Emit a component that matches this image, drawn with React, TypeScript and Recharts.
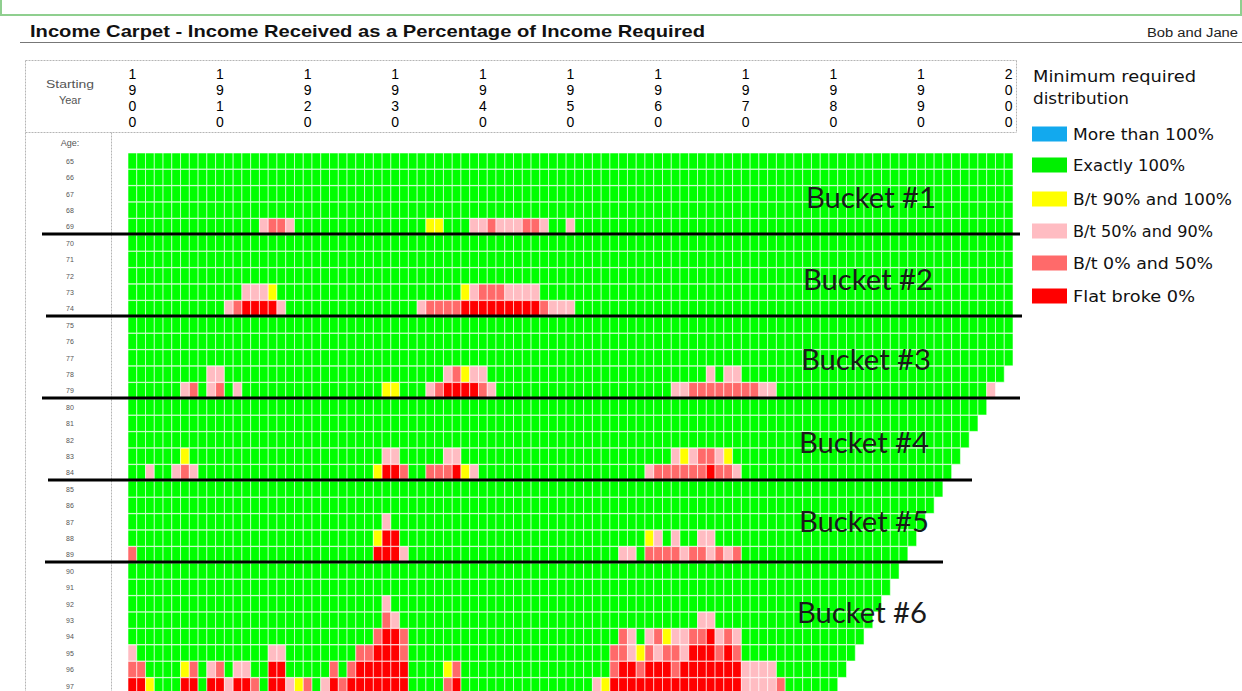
import React from "react";
import { BarChart, Bar, XAxis, YAxis, Cell } from "recharts";

// ---------- data ----------
const firstYear = 1900;
const yearCount = 101; // 1900..2000
const yearTicks = [1900, 1910, 1920, 1930, 1940, 1950, 1960, 1970, 1980, 1990, 2000];

const ages = [65, 66, 67, 68, 69, 70, 71, 72, 73, 74, 75, 76, 77, 78, 79, 80, 81, 82, 83, 84, 85, 86, 87, 88, 89, 90, 91, 92, 93, 94, 95, 96, 97];

// last starting year shown for each age row
const lastStartYear = [
  2000, 2000, 2000, 2000, 2000, 2000, 2000, 2000, 2000, 2000, 2000, 2000, 2000,
  1999, 1998, 1997, 1996, 1995, 1994, 1993, 1992, 1991, 1990, 1989, 1988, 1987,
  1986, 1985, 1984, 1983, 1982, 1981, 1980,
];

// cells that are not "Exactly 100%": [age, first starting year, codes...]
// Y = B/t 90-100, P = B/t 50-90, S = B/t 0-50, R = Flat broke
const offCells: [number, number, string][] = [
  [69, 1915, "PSSP"], [69, 1934, "YY"], [69, 1939, "PPSPPPSSP"], [69, 1950, "P"],
  [73, 1913, "PPPY"], [73, 1938, "YPSSSPPPP"],
  [74, 1911, "PSRRRRP"], [74, 1933, "PSSSSRRRRRRRRRSPPP"],
  [78, 1909, "PP"], [78, 1936, "PSYPP"], [78, 1966, "P"], [78, 1968, "PP"],
  [79, 1906, "PS"], [79, 1909, "PS"], [79, 1912, "P"], [79, 1929, "YY"], [79, 1934, "PSRRRRSP"], [79, 1962, "PPSSSSSSSSPP"], [79, 1998, "P"],
  [83, 1906, "Y"], [83, 1929, "PP"], [83, 1936, "PP"], [83, 1962, "PYPSSPY"],
  [84, 1902, "P"], [84, 1905, "PSP"], [84, 1928, "YRRS"], [84, 1934, "SSSRYP"], [84, 1959, "PSSSSSSRSSP"],
  [87, 1929, "P"],
  [88, 1928, "YRR"], [88, 1959, "YP"], [88, 1962, "P"], [88, 1965, "PP"],
  [89, 1900, "S"], [89, 1928, "RRRP"], [89, 1956, "PP"], [89, 1959, "SSSSPSSPSPS"],
  [92, 1929, "P"],
  [93, 1929, "SP"], [93, 1965, "PP"],
  [94, 1928, "SRRS"], [94, 1956, "SP"], [94, 1959, "PSYPPSSRPSP"],
  [95, 1900, "P"], [95, 1916, "PP"], [95, 1926, "SSRRRS"], [95, 1955, "SSPY"], [95, 1959, "SPSSPRRRSRS"],
  [96, 1900, "SS"], [96, 1906, "YS"], [96, 1909, "PS"], [96, 1912, "PP"], [96, 1916, "RR"], [96, 1923, "S"], [96, 1925, "SRRRRRR"], [96, 1936, "YS"], [96, 1955, "SRRSRRRSRRRRRRRPPPP"],
  [97, 1900, "RRY"], [97, 1906, "RR"], [97, 1909, "RRPRRS"], [97, 1916, "RRPYS"], [97, 1922, "PRSRRRRRRR"], [97, 1936, "SR"], [97, 1953, "PY"], [97, 1955, "RRRRRRRRRRRRRRRPPPPS"],
];

const legendCodes = ["B", "G", "Y", "P", "S", "R"];
const legendLabels = ["More than 100%", "Exactly 100%", "B/t 90% and 100%", "B/t 50% and 90%", "B/t 0% and 50%", "Flat broke 0%"];
const legendColors = ["#12a9ee", "#00f000", "#ffff00", "#ffbcc2", "#ff6a6a", "#ff0000"];

const bucketLabels = ["Bucket #1", "Bucket #2", "Bucket #3", "Bucket #4", "Bucket #5", "Bucket #6"];
const bucketLastAge = [69, 74, 79, 84, 89];

// ---------- build table ----------
const colorOf: Record<string, string> = {};
legendCodes.forEach((c, i) => (colorOf[c] = legendColors[i]));
colorOf["G"] = "#00ff00";

const colIdx = Array.from({ length: yearCount }, (_, i) => i);

const codeGrid: string[][] = ages.map((age, r) =>
  colIdx.map((c) => (firstYear + c <= lastStartYear[r] ? "G" : ""))
);
offCells.forEach(([age, y0, codes]) => {
  const r = ages.indexOf(age);
  codes.split("").forEach((ch, k) => {
    const c = y0 - firstYear + k;
    if (r >= 0 && codeGrid[r][c] !== "") codeGrid[r][c] = ch;
  });
});

const data = ages.map((age, r) => {
  const row: Record<string, any> = { age: String(age) };
  colIdx.forEach((c) => {
    row["c" + c] = codeGrid[r][c] ? 1 : null;
  });
  return row;
});

// ---------- layout ----------
const W = 1242;
const H = 700;
const plotLeft = 128;
const plotRight = 1013;
const plotTop = 153;
const rowH = 16.4;
const plotBottom = plotTop + rowH * ages.length;

const YearTick = (props: any) => {
  const { x, payload } = props;
  const idx = Math.round(payload.value - 0.5);
  const label = String(yearTicks.find((y) => y - firstYear === idx) ?? firstYear + idx);
  return (
    <text
      x={x}
      y={66}
      fontSize={14}
      fontFamily="Liberation Sans, Arial"
      fill="#000"
      style={{ writingMode: "vertical-rl", textOrientation: "upright" } as any}
    >
      {label}
    </text>
  );
};

const AgeTick = (props: any) => {
  const { y, payload } = props;
  return (
    <text x={70} y={y + 2.5} textAnchor="middle" fontSize={7} fontFamily="Liberation Sans, Arial" fill="#555">
      {payload.value}
    </text>
  );
};

export default function App() {
  const rowBoundary = (age: number) => plotTop + (ages.indexOf(age) + 1) * rowH - 1;
  const bucketLineX = [[42, 1020], [46, 1022], [42, 1020], [48, 972], [45, 943]];
  const bucketTextPos = [
    [806, 208], [803, 290], [801, 370], [799, 453], [799, 532], [797, 623],
  ];
  const legendY = [134, 165, 199, 231, 263, 296];
  const legendW = [141, 112, 159, 140, 140, 122];

  return (
    <div style={{ position: "absolute", left: 0, top: 0, width: W, height: 691, overflow: "hidden", background: "#fff" }}>
      <div style={{ position: "absolute", left: 0, top: 0 }}>
        <BarChart
          width={W}
          height={H}
          data={data}
          layout="vertical"
          barCategoryGap={0}
          barGap={0}
          margin={{ top: 0, left: 0, right: W - plotRight, bottom: H - plotBottom }}
        >
          <XAxis
            type="number"
            orientation="top"
            domain={[0, yearCount]}
            ticks={yearTicks.map((y) => y - firstYear + 0.5)}
            interval={0}
            height={plotTop}
            axisLine={false}
            tickLine={false}
            tick={YearTick}
          />
          <YAxis
            type="category"
            dataKey="age"
            width={plotLeft}
            interval={0}
            axisLine={false}
            tickLine={false}
            tick={AgeTick}
          />
          {colIdx.map((c) => (
            <Bar
              key={c}
              dataKey={"c" + c}
              stackId="carpet"
              isAnimationActive={false}
              stroke="#ffffff"
              strokeOpacity={0.55}
              strokeWidth={1}
            >
              {ages.map((age, r) => (
                <Cell key={age} fill={colorOf[codeGrid[r][c]] || "#ffffff"} />
              ))}
            </Bar>
          ))}
        </BarChart>
      </div>

      <svg width={W} height={691} style={{ position: "absolute", left: 0, top: 0, pointerEvents: "none" }}>
        {/* clipped top green box */}
        <rect x={1} y={-4} width={W - 2} height={19} fill="none" stroke="#8fcf8f" strokeWidth={2} />

        {/* title */}
        <text x={30} y={37} fontSize={17} fontWeight="bold" fontFamily="Liberation Sans, Arial" fill="#111" textLength={675} lengthAdjust="spacingAndGlyphs">
          Income Carpet - Income Received as a Percentage of Income Required
        </text>
        <text x={1147} y={37} fontSize={12} fontFamily="Liberation Sans, Arial" fill="#222" textLength={91} lengthAdjust="spacingAndGlyphs">
          Bob and Jane
        </text>
        <line x1={20} y1={42.5} x2={W} y2={42.5} stroke="#777" strokeWidth={1.2} />

        {/* header / left boxes */}
        <g stroke="#b5b5b5" strokeWidth={1} strokeDasharray="2 1" fill="none">
          <line x1={25.5} y1={60.5} x2={1016.5} y2={60.5} />
          <line x1={25.5} y1={60.5} x2={25.5} y2={691} />
          <line x1={1016.5} y1={60.5} x2={1016.5} y2={132.5} />
          <line x1={25.5} y1={132.5} x2={1016.5} y2={132.5} />
          <line x1={111.5} y1={132.5} x2={111.5} y2={691} />
        </g>
        <text x={70} y={88} textAnchor="middle" fontSize={11} fontFamily="Liberation Sans, Arial" fill="#555" textLength={48} lengthAdjust="spacingAndGlyphs">Starting</text>
        <text x={70} y={104} textAnchor="middle" fontSize={11} fontFamily="Liberation Sans, Arial" fill="#555">Year</text>
        <text x={70} y={146} textAnchor="middle" fontSize={9} fontFamily="Liberation Sans, Arial" fill="#555">Age:</text>

        {/* bucket separators */}
        {bucketLastAge.map((a, i) => (
          <line key={a} x1={bucketLineX[i][0]} y1={rowBoundary(a)} x2={bucketLineX[i][1]} y2={rowBoundary(a)} stroke="#000" strokeWidth={3} />
        ))}
        {bucketLabels.map((t, i) => (
          <text key={t} x={bucketTextPos[i][0]} y={bucketTextPos[i][1]} fontSize={29} fontFamily="Lato, 'Open Sans', sans-serif" fill="#1a1a1a" textLength={130} lengthAdjust="spacingAndGlyphs">
            {t}
          </text>
        ))}

        {/* legend */}
        <text x={1033} y={82} fontSize={16} fontFamily="DejaVu Sans, Verdana" fill="#111" textLength={163} lengthAdjust="spacingAndGlyphs">Minimum required</text>
        <text x={1033} y={104} fontSize={16} fontFamily="DejaVu Sans, Verdana" fill="#111" textLength={96} lengthAdjust="spacingAndGlyphs">distribution</text>
        {legendLabels.map((l, i) => (
          <g key={l}>
            <rect x={1032} y={legendY[i] - 7.5} width={35} height={15} fill={legendColors[i]} />
            <text x={1073} y={legendY[i] + 6} fontSize={15} fontFamily="DejaVu Sans, Verdana" fill="#111" textLength={legendW[i]} lengthAdjust="spacingAndGlyphs">
              {l}
            </text>
          </g>
        ))}
      </svg>
    </div>
  );
}
